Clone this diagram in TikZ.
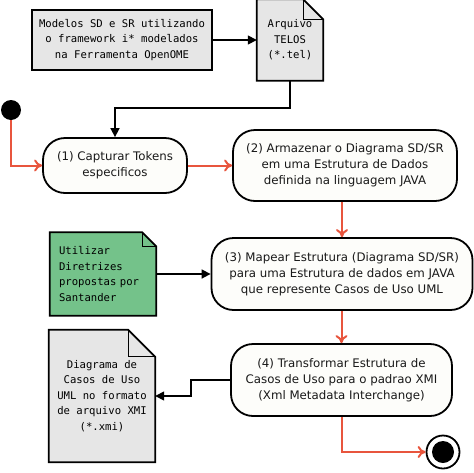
\documentclass[tikz,border=0pt]{standalone}
\usepackage{fontspec}
\setmainfont{DejaVu Sans}
\newfontfamily\monof{DejaVu Sans Mono}
\usetikzlibrary{arrows.meta,backgrounds,calc}
\definecolor{redl}{HTML}{E8553D}
\definecolor{grayf}{HTML}{E6E6E6}
\definecolor{greenf}{HTML}{74C28A}
\definecolor{nodef}{HTML}{FDFDFA}
\tikzset{
  act/.style={draw=black, line width=1.8pt, fill=nodef, rounded corners=22pt, align=center,
    inner sep=0pt, font=\fontsize{11.8}{16}\selectfont, text=black!90},
  mono/.style={inner sep=0pt, font=\monof\fontsize{10.6}{15.5}\selectfont},
  docline/.style={draw=black, line width=1.8pt, line join=miter},
  blkarr/.style={draw=black, line width=1.6pt, -{Triangle[length=9pt,width=9pt]}},
  redarr/.style={draw=redl, line width=2pt, -{To[length=8pt,width=12pt,line width=2pt]}},
}
\begin{document}
\begin{tikzpicture}[x=1pt,y=-1pt]
\useasboundingbox (0,0) rectangle (474,472);
% top gray box
\node[mono, draw=black, line width=1.8pt, fill=grayf, minimum width=180pt, minimum height=60pt, align=center] (models) at (122,40)
  {Modelos SD e SR utilizando\\o framework i* modelados\\na Ferramenta OpenOME};
% docs (text nodes)
\node[mono, minimum width=66pt, minimum height=81pt, align=center] (telos) at (290,40) {Arquivo\\TELOS\\(*.tel)};
\node[mono, minimum width=106pt, minimum height=83pt, align=left, text width=88pt] (green) at (103,274)
  {Utilizar\\Diretrizes\\propostas por\\Santander};
\node[mono, minimum width=106pt, minimum height=132pt, align=center] (xmi) at (102,396)
  {Diagrama de\\Casos de Uso\\UML no formato\\de arquivo XMI\\(*.xmi)};
\begin{scope}[on background layer]
  \fill[grayf] (telos.north west) -- ([xshift=-20pt]telos.north east) -- ([yshift=-20pt]telos.north east) -- (telos.south east) -- (telos.south west) -- cycle;
  \draw[docline] (telos.north west) -- ([xshift=-20pt]telos.north east) -- ([yshift=-20pt]telos.north east) -- (telos.south east) -- (telos.south west) -- cycle;
  \draw[docline, line width=1pt] ([xshift=-20pt]telos.north east) -- ([xshift=-20pt,yshift=-20pt]telos.north east) -- ([yshift=-20pt]telos.north east);
  \fill[greenf] (green.north west) -- ([xshift=-14pt]green.north east) -- ([yshift=-14pt]green.north east) -- (green.south east) -- (green.south west) -- cycle;
  \draw[docline] (green.north west) -- ([xshift=-14pt]green.north east) -- ([yshift=-14pt]green.north east) -- (green.south east) -- (green.south west) -- cycle;
  \draw[docline, line width=1pt] ([xshift=-14pt]green.north east) -- ([xshift=-14pt,yshift=-14pt]green.north east) -- ([yshift=-14pt]green.north east);
  \fill[grayf] (xmi.north west) -- ([xshift=-27pt]xmi.north east) -- ([yshift=-27pt]xmi.north east) -- (xmi.south east) -- (xmi.south west) -- cycle;
  \draw[docline] (xmi.north west) -- ([xshift=-27pt]xmi.north east) -- ([yshift=-27pt]xmi.north east) -- (xmi.south east) -- (xmi.south west) -- cycle;
  \draw[docline, line width=1pt] ([xshift=-27pt]xmi.north east) -- ([xshift=-27pt,yshift=-27pt]xmi.north east) -- ([yshift=-27pt]xmi.north east);
\end{scope}
% activities
\node[act, minimum width=144pt, minimum height=55pt] (n1) at (115,165.5) {(1) Capturar Tokens\\especificos};
\node[act, minimum width=224pt, minimum height=71pt] (n2) at (345,165.5) {(2) Armazenar o Diagrama SD/SR\\em uma Estrutura de Dados\\definida na linguagem JAVA};
\node[act, minimum width=261pt, minimum height=72pt] (n3) at (342,274) {(3) Mapear Estrutura (Diagrama SD/SR)\\para uma Estrutura de dados em JAVA\\que represente Casos de Uso UML};
\node[act, minimum width=221pt, minimum height=72pt] (n4) at (341.5,380) {(4) Transformar Estrutura de\\Casos de Uso para o padrao XMI\\(Xml Metadata Interchange)};
% start / end
\node[circle, fill=black, minimum size=20pt, inner sep=0pt] (start) at (11,110) {};
\node[circle, draw=black, line width=1.8pt, fill=white, minimum size=33pt, inner sep=0pt] (end) at (443,452) {};
\node[circle, fill=black, minimum size=22pt, inner sep=0pt] (endin) at (end.center) {};
% connectors
\draw[blkarr] (models.east) -- (telos.west);
\draw[blkarr] (telos.south) -- ++(0,27) -| (n1.north);
\draw[redarr] (start.south) |- (n1.west);
\draw[redarr] (n1.east) -- (n2.west);
\draw[redarr] (n3.north |- n2.south) -- (n3.north);
\draw[blkarr] (green.east) -- (n3.west);
\draw[redarr] (n4.north |- n3.south) -- (n4.north);
\draw[blkarr] (n4.west) -- ++(-39,0) |- (xmi.east);
\draw[redarr] (n4.south) |- (end.west);
\end{tikzpicture}
\end{document}
